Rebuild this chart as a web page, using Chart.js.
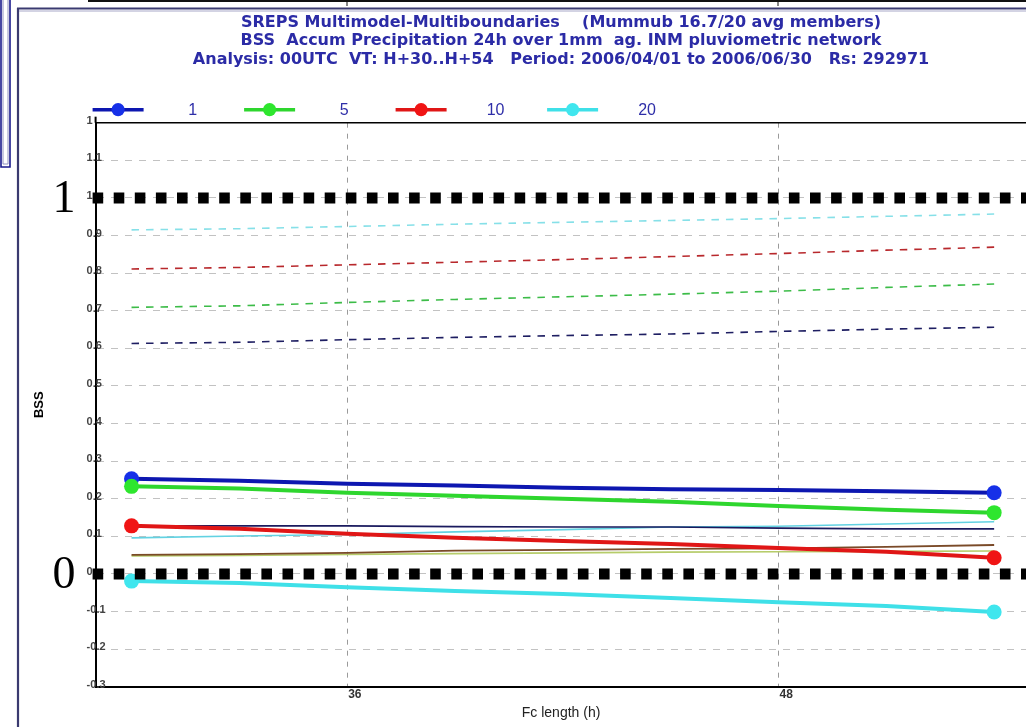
<!DOCTYPE html>
<html>
<head>
<meta charset="utf-8">
<script src="https://cdn.jsdelivr.net/npm/chart.js@4.4.0/dist/chart.umd.min.js"></script>
<style>
  html, body { margin: 0; padding: 0; background: #ffffff; overflow: hidden; }
  #wrap { position: relative; width: 1026px; height: 727px; overflow: hidden; }
</style>
</head>
<body>
<div id="wrap"><canvas id="bss" width="1034" height="727"></canvas></div>
<script>
// Forecast length (hours) at which the scores are sampled
const fcHours = [30, 33, 36, 39, 42, 45, 48, 51, 54];

// Brier skill score per precipitation threshold (mm)
const bssThr1  = [0.253, 0.248, 0.240, 0.235, 0.229, 0.225, 0.223, 0.220, 0.216];
const bssThr5  = [0.233, 0.227, 0.216, 0.208, 0.200, 0.192, 0.181, 0.171, 0.163];
const bssThr10 = [0.128, 0.120, 0.107, 0.096, 0.088, 0.080, 0.069, 0.059, 0.043];
const bssThr20 = [-0.019, -0.024, -0.035, -0.045, -0.053, -0.064, -0.075, -0.085, -0.101];

// Secondary thin curves
const thinNavy  = [0.128, 0.128, 0.128, 0.126, 0.125, 0.125, 0.122, 0.120, 0.120];
const thinCyan  = [0.096, 0.101, 0.105, 0.112, 0.118, 0.125, 0.127, 0.133, 0.139];
const thinBrown = [0.051, 0.053, 0.056, 0.062, 0.064, 0.067, 0.068, 0.072, 0.077];
const thinOlive = [0.048, 0.049, 0.052, 0.054, 0.056, 0.058, 0.059, 0.060, 0.061];

// Dashed upper curves
const upperCyan  = [0.915, 0.918, 0.924, 0.930, 0.935, 0.940, 0.945, 0.951, 0.957];
const upperRed   = [0.811, 0.815, 0.822, 0.829, 0.836, 0.844, 0.852, 0.861, 0.869];
const upperGreen = [0.709, 0.713, 0.722, 0.730, 0.737, 0.744, 0.752, 0.762, 0.771];
const upperNavy  = [0.613, 0.616, 0.623, 0.629, 0.634, 0.638, 0.645, 0.651, 0.656];

// Legend entries
const thresholdLabels = ['1', '5', '10', '20'];

// Axis ticks
const xTickValues = [36, 48];
const xTickLabels = ['36', '48'];
const yTickValues = [-0.3, -0.2, -0.1, 0, 0.1, 0.2, 0.3, 0.4, 0.5, 0.6, 0.7, 0.8, 0.9, 1, 1.1, 1.2];
const yTickLabels = ['-0.3', '-0.2', '-0.1', '0', '0.1', '0.2', '0.3', '0.4', '0.5', '0.6', '0.7', '0.8', '0.9', '1', '1.1', '1'];

// Reference levels (perfect skill and no skill)
const refValues = [1, 0];
const refLabels = ['1', '0'];

const titleLines = [
  'SREPS Multimodel-Multiboundaries    (Mummub 16.7/20 avg members)',
  'BSS  Accum Precipitation 24h over 1mm  ag. INM pluviometric network',
  'Analysis: 00UTC  VT: H+30..H+54   Period: 2006/04/01 to 2006/06/30   Rs: 292971'
];

const thresholdColors = ['#0d17b0', '#2ed62e', '#e01616', '#3fe0e8'];
const markerColors    = ['#1630e8', '#2ee62e', '#f01414', '#40e6ee'];
const thickSeries = [bssThr1, bssThr5, bssThr10, bssThr20];

const pts = arr => arr.map((v, i) => ({ x: fcHours[i], y: v }));
const endMarker = r => ctx => (ctx.dataIndex === 0 || ctx.dataIndex === fcHours.length - 1) ? r : 0;

const datasets = [];
// thick curves: the last one listed is drawn first
for (let i = thickSeries.length - 1; i >= 0; i--) {
  datasets.push({
    label: thresholdLabels[i],
    data: pts(thickSeries[i]),
    borderColor: thresholdColors[i],
    backgroundColor: markerColors[i],
    pointBackgroundColor: markerColors[i],
    pointBorderColor: markerColors[i],
    borderWidth: 4,
    pointRadius: endMarker(7.5),
    pointBorderWidth: 0,
    tension: 0
  });
}
const thin = (data, color, w) => ({
  data: pts(data), borderColor: color, borderWidth: w, pointRadius: 0, tension: 0
});
datasets.push(thin(thinNavy, '#1a1a5e', 1.6));
datasets.push(thin(thinCyan, '#62d2e2', 1.6));
datasets.push(thin(thinBrown, '#7a4a28', 1.8));
datasets.push(thin(thinOlive, '#b6cc6a', 1.6));
const dashed = (data, color) => ({
  data: pts(data), borderColor: color, borderWidth: 1.6, borderDash: [7.5, 7],
  pointRadius: 0, tension: 0
});
datasets.push(dashed(upperCyan, '#86e0e8'));
datasets.push(dashed(upperRed, '#b8282c'));
datasets.push(dashed(upperGreen, '#3cbc48'));
datasets.push(dashed(upperNavy, '#1e1e62'));

const decor = {
  id: 'decor',
  beforeDraw(chart) {
    const { ctx, width, height } = chart;
    ctx.save();
    ctx.fillStyle = '#ffffff';
    ctx.fillRect(0, 0, width, height);
    // neighbouring panel edge at the very top
    ctx.strokeStyle = '#111111';
    ctx.lineWidth = 2;
    ctx.beginPath(); ctx.moveTo(88, 1); ctx.lineTo(width, 1); ctx.stroke();
    ctx.lineWidth = 1;
    ctx.beginPath(); ctx.moveTo(347, 0); ctx.lineTo(347, 6); ctx.moveTo(778, 0); ctx.lineTo(778, 6); ctx.stroke();
    // panel frame
    ctx.strokeStyle = '#3a3a70';
    ctx.lineWidth = 2.2;
    ctx.beginPath(); ctx.moveTo(17, 8.5); ctx.lineTo(width, 8.5); ctx.stroke();
    ctx.beginPath(); ctx.moveTo(18, 8); ctx.lineTo(18, height); ctx.stroke();
    ctx.strokeStyle = '#a8a8c8';
    ctx.lineWidth = 1;
    ctx.beginPath(); ctx.moveTo(19, 11); ctx.lineTo(width, 11); ctx.stroke();
    // side box
    ctx.strokeStyle = '#1a1a8c';
    ctx.lineWidth = 1.6;
    ctx.beginPath(); ctx.moveTo(1, 0); ctx.lineTo(1, 167); ctx.lineTo(10, 167); ctx.lineTo(10, 0); ctx.stroke();
    ctx.strokeStyle = '#9090c0';
    ctx.lineWidth = 1;
    ctx.beginPath(); ctx.moveTo(3, 0); ctx.lineTo(3, 164); ctx.lineTo(8, 164); ctx.lineTo(8, 0); ctx.stroke();
    ctx.restore();
  },
  afterDatasetsDraw(chart) {
    const { ctx, chartArea, scales } = chart;
    ctx.save();
    // top frame of the plot and small overshoot of the left axis
    ctx.strokeStyle = '#000';
    ctx.lineWidth = 1.6;
    ctx.beginPath(); ctx.moveTo(chartArea.left, chartArea.top); ctx.lineTo(chartArea.right, chartArea.top); ctx.stroke();
    ctx.lineWidth = 2;
    ctx.beginPath(); ctx.moveTo(chartArea.left, chartArea.top - 6); ctx.lineTo(chartArea.left, chartArea.top); ctx.stroke();
    // heavy dotted reference levels
    ctx.strokeStyle = '#000';
    ctx.lineWidth = 11;
    ctx.setLineDash([10.6, 10.5]);
    refValues.forEach(v => {
      const y = scales.y.getPixelForValue(v);
      ctx.beginPath(); ctx.moveTo(chartArea.left - 3, y); ctx.lineTo(chartArea.right, y); ctx.stroke();
    });
    ctx.setLineDash([]);
    ctx.restore();
  },
  afterDraw(chart) {
    const { ctx, chartArea, scales } = chart;
    ctx.save();
    // big reference level labels
    ctx.fillStyle = '#000';
    ctx.font = '46px "Liberation Serif", "DejaVu Serif", serif';
    ctx.textAlign = 'center';
    ctx.textBaseline = 'middle';
    refValues.forEach((v, i) => {
      ctx.fillText(refLabels[i], 64, scales.y.getPixelForValue(v) + 2);
    });
    // legend: line with marker followed by the threshold
    const ly = chartArea.top - 13;
    thresholdLabels.forEach((lab, i) => {
      const x0 = chartArea.left - 3 + 151.5 * i;
      ctx.strokeStyle = thresholdColors[i];
      ctx.lineWidth = 3.4;
      ctx.beginPath(); ctx.moveTo(x0, ly); ctx.lineTo(x0 + 51, ly); ctx.stroke();
      ctx.fillStyle = markerColors[i];
      ctx.beginPath(); ctx.arc(x0 + 25.5, ly, 6.6, 0, Math.PI * 2); ctx.fill();
      ctx.fillStyle = '#2e2ea8';
      ctx.font = '16px "Liberation Sans", Arial, sans-serif';
      ctx.textAlign = 'center';
      ctx.textBaseline = 'middle';
      ctx.fillText(lab, x0 + 100, ly + 1);
    });
    ctx.restore();
  }
};

new Chart(document.getElementById('bss'), {
  type: 'line',
  data: { datasets },
  plugins: [decor],
  options: {
    responsive: false,
    animation: false,
    layout: { padding: { left: 32, right: 0, top: 13.5, bottom: 5 } },
    plugins: {
      legend: { display: false },
      tooltip: { enabled: false },
      title: {
        display: true,
        fullSize: false,
        text: titleLines,
        color: '#2b2ba6',
        font: { family: '"DejaVu Sans", sans-serif', weight: 'bold', size: 16, lineHeight: 1.16 },
        padding: { top: 0, bottom: 53.5 }
      }
    },
    scales: {
      x: {
        type: 'linear',
        min: 29,
        max: 54.9,
        afterBuildTicks: s => { s.ticks = xTickValues.map(v => ({ value: v })); },
        ticks: {
          callback: (v, i) => xTickLabels[i],
          align: 'start',
          labelOffset: 1,
          padding: 1,
          color: '#333',
          font: { family: '"Liberation Sans", Arial, sans-serif', weight: 'bold', size: 12 }
        },
        grid: { color: '#9a9a9a', lineWidth: 1, drawTicks: false },
        border: { display: true, color: '#000', width: 2, dash: [5, 6] },
        title: {
          display: true,
          text: 'Fc length (h)',
          color: '#222',
          font: { family: '"Liberation Sans", Arial, sans-serif', size: 14 },
          padding: { top: 2, bottom: 0 }
        }
      },
      y: {
        min: -0.3,
        max: 1.2,
        afterBuildTicks: s => { s.ticks = yTickValues.map(v => ({ value: v })); },
        ticks: {
          mirror: true,
          padding: -9,
          labelOffset: -2,
          callback: (v, i) => yTickLabels[i],
          color: '#444',
          font: { family: '"Liberation Sans", Arial, sans-serif', weight: 'bold', size: 11 }
        },
        grid: {
          color: c => (c.index === 0 || c.index === yTickValues.length - 1) ? 'rgba(0,0,0,0)' : '#c2c2c2',
          lineWidth: 1,
          drawTicks: false
        },
        border: { display: true, color: '#000', width: 2, dash: [7, 7] },
        title: {
          display: true,
          text: 'BSS',
          color: '#000',
          font: { family: '"Liberation Sans", Arial, sans-serif', weight: 'bold', size: 13 },
          padding: { top: 0, bottom: 66 }
        }
      }
    }
  }
});
</script>
</body>
</html>
